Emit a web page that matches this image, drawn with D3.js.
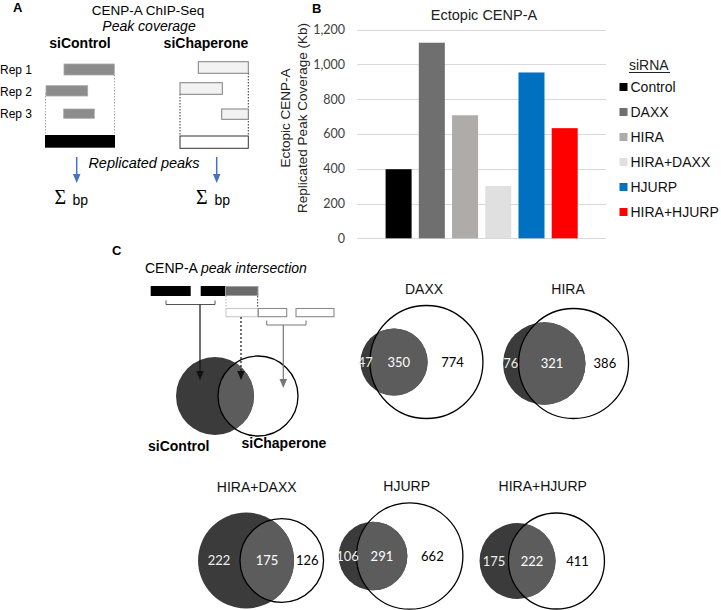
<!DOCTYPE html>
<html>
<head>
<meta charset="utf-8">
<script src="https://cdn.jsdelivr.net/npm/d3@7"></script>
<style>
  html, body { margin: 0; padding: 0; background: #fff; }
  svg { display: block; }
</style>
</head>
<body>
<svg id="fig" width="721" height="610"></svg>
<script>
// ---------------- DATA ----------------
const barCategories = ["Control", "DAXX", "HIRA", "HIRA+DAXX", "HJURP", "HIRA+HJURP"];
const barValues = [397, 1124, 707, 301, 953, 633];
const barColors = ["#000000", "#6f6f6f", "#aeaba9", "#e0e0e0", "#0070c0", "#ff0000"];
const yTicks = [0, 200, 400, 600, 800, 1000, 1200];
const yTickLabels = ["0", "200", "400", "600", "800", "1,000", "1,200"];

const vennNames = ["DAXX", "HIRA", "HIRA+DAXX", "HJURP", "HIRA+HJURP"];
const vennControlOnly = [47, 76, 222, 106, 175];
const vennShared = [350, 321, 175, 291, 222];
const vennChaperoneOnly = [774, 386, 126, 662, 411];

// ---------------- LAYOUT ----------------
const vennLayout = [
  { cx: 421.7, cy: 362, maxR: 56.5, tx: 424, ty: 294 },
  { cx: 565.8, cy: 363.5, maxR: 55, tx: 568, ty: 294 },
  { cx: 260.8, cy: 560.5, maxR: 48, tx: 256.7, ty: 491.5 },
  { cx: 400.8, cy: 556, maxR: 53.2, tx: 406.7, ty: 491 },
  { cx: 542, cy: 561, maxR: 48, tx: 542.7, ty: 491 }
];

const svg = d3.select("#fig");
const SANS = "'Liberation Sans', Arial, Helvetica, sans-serif";
const NUM = "Lato, 'Open Sans', sans-serif";
svg.append("rect").attr("width", 721).attr("height", 610).attr("fill", "#fff");

function txt(g, x, y, s, opts = {}) {
  return g.append("text").attr("x", x).attr("y", y).text(s)
    .attr("font-family", opts.family || SANS)
    .attr("font-size", opts.size || 14)
    .attr("font-weight", opts.weight || "normal")
    .attr("font-style", opts.style || "normal")
    .attr("text-anchor", opts.anchor || "start")
    .attr("fill", opts.fill || "#000");
}
function arrow(g, x, y1, y2, color, dashed, w) {
  g.append("line").attr("x1", x).attr("x2", x).attr("y1", y1).attr("y2", y2 - 7)
    .attr("stroke", color).attr("stroke-width", w || 1.3)
    .attr("stroke-dasharray", dashed ? "2,2" : null);
  g.append("path").attr("d", `M${x - 3.8},${y2 - 9} L${x + 3.8},${y2 - 9} L${x},${y2} Z`)
    .attr("fill", color);
}

// ---------------- PANEL A ----------------
const A = svg.append("g");
txt(A, 13, 12, "A", { weight: "bold", size: 13 });
txt(A, 148, 15, "CENP-A ChIP-Seq", { anchor: "middle", size: 13.5 });
txt(A, 149, 31, "Peak coverage", { anchor: "middle", style: "italic", size: 14 });
txt(A, 80, 48, "siControl", { anchor: "middle", weight: "bold", size: 14 });
txt(A, 206, 48, "siChaperone", { anchor: "middle", weight: "bold", size: 14 });
["Rep 1", "Rep 2", "Rep 3"].forEach((r, i) => txt(A, 0, 74 + i * 22, r, { size: 12 }));

// siControl replicates
A.append("line").attr("x1", 45.5).attr("x2", 45.5).attr("y1", 93).attr("y2", 135)
  .attr("stroke", "#aaa").attr("stroke-dasharray", "1.5,1.5");
A.append("line").attr("x1", 114.5).attr("x2", 114.5).attr("y1", 75).attr("y2", 135)
  .attr("stroke", "#aaa").attr("stroke-dasharray", "1.5,1.5");
[[64, 64, 50.3, 11], [46, 85.7, 41.7, 10.3], [63.7, 109, 30.6, 9.3]].forEach(b =>
  A.append("rect").attr("x", b[0]).attr("y", b[1]).attr("width", b[2]).attr("height", b[3])
    .attr("fill", "#8c8c8c").attr("stroke", "#a8a8a8").attr("stroke-width", 0.8));
A.append("rect").attr("x", 45).attr("y", 135).attr("width", 70).attr("height", 12.7).attr("fill", "#000");

// siChaperone replicates
A.append("line").attr("x1", 180).attr("x2", 180).attr("y1", 94).attr("y2", 136)
  .attr("stroke", "#333").attr("stroke-dasharray", "1.5,1.5");
A.append("line").attr("x1", 248.3).attr("x2", 248.3).attr("y1", 73).attr("y2", 136)
  .attr("stroke", "#333").attr("stroke-dasharray", "1.5,1.5");
[[198.3, 61.7, 50, 11.6], [180, 82.7, 42.3, 11.6], [221.7, 109, 26.6, 10.3]].forEach(b =>
  A.append("rect").attr("x", b[0]).attr("y", b[1]).attr("width", b[2]).attr("height", b[3])
    .attr("fill", "#f2f2f2").attr("stroke", "#7f7f7f").attr("stroke-width", 1));
A.append("rect").attr("x", 180).attr("y", 136).attr("width", 68.3).attr("height", 12.3)
  .attr("fill", "#fff").attr("stroke", "#333").attr("stroke-width", 1);

arrow(A, 76.7, 157, 183, "#4472c4", false, 1.5);
arrow(A, 216.7, 157, 183, "#4472c4", false, 1.5);
txt(A, 144, 168, "Replicated peaks", { anchor: "middle", style: "italic", size: 14.5 });
txt(A, 54.5, 204, "Σ", { size: 20, family: "'Liberation Serif', 'Times New Roman', serif" });
txt(A, 72.5, 205, "bp", { size: 14 });
txt(A, 196, 204, "Σ", { size: 20, family: "'Liberation Serif', 'Times New Roman', serif" });
txt(A, 214.5, 205, "bp", { size: 14 });

// ---------------- PANEL B ----------------
const B = svg.append("g");
txt(B, 312, 13, "B", { weight: "bold", size: 13 });
txt(B, 484, 20, "Ectopic CENP-A", { anchor: "middle", size: 14.5, fill: "#222" });

const y = d3.scaleLinear().domain([0, 1200]).range([238.3, 29.5]);
const x = d3.scaleBand().domain(barCategories).range([382, 581.3])
  .paddingInner(0.217).paddingOuter(0.108);

B.selectAll(".grid").data(yTicks).enter().append("line")
  .attr("x1", 357).attr("x2", 606)
  .attr("y1", d => Math.round(y(d)) + 0.5).attr("y2", d => Math.round(y(d)) + 0.5)
  .attr("stroke", "#d9d9d9").attr("stroke-width", 1);
B.selectAll(".tl").data(yTicks).enter().append("text")
  .attr("x", 345).attr("y", d => y(d) + 4.5)
  .attr("text-anchor", "end").attr("font-family", NUM).attr("font-size", 12.5)
  .attr("fill", "#404040").text((d, i) => yTickLabels[i]);

B.selectAll(".bar").data(barValues).enter().append("rect")
  .attr("x", (d, i) => x(barCategories[i]))
  .attr("y", d => y(d))
  .attr("width", x.bandwidth())
  .attr("height", d => y(0) - y(d))
  .attr("fill", (d, i) => barColors[i]);

const yt = B.append("g").attr("transform", "translate(0,118) rotate(-90)");
txt(yt, 0, 289.5, "Ectopic CENP-A", { anchor: "middle", size: 13.5, fill: "#222" });
txt(yt, 0, 306.5, "Replicated Peak Coverage (Kb)", { anchor: "middle", size: 13.5, fill: "#222" });

// legend
txt(B, 629, 70, "siRNA", { size: 14, fill: "#222" });
B.append("line").attr("x1", 629).attr("x2", 670).attr("y1", 72.5).attr("y2", 72.5)
  .attr("stroke", "#222").attr("stroke-width", 1);
barCategories.forEach((c, i) => {
  const cy = 87 + i * 25;
  B.append("rect").attr("x", 619.5).attr("y", cy - 4).attr("width", 8).attr("height", 8)
    .attr("fill", barColors[i]);
  txt(B, 630.5, cy + 5, c, { size: 14, fill: "#111" });
});

// ---------------- PANEL C ----------------
const C = svg.append("g");
txt(C, 112, 255, "C", { weight: "bold", size: 13 });
const ct = txt(C, 145, 273, "", { size: 14 });
ct.append("tspan").text("CENP-A ");
ct.append("tspan").attr("font-style", "italic").text("peak intersection");

// schematic peaks
C.append("rect").attr("x", 150.7).attr("y", 286).attr("width", 40).attr("height", 10).attr("fill", "#000");
C.append("rect").attr("x", 200.7).attr("y", 286).attr("width", 24.3).attr("height", 10).attr("fill", "#000");
C.append("rect").attr("x", 225.5).attr("y", 286.5).attr("width", 32.5).attr("height", 9)
  .attr("fill", "#6b6b6b").attr("stroke", "#a0a0a0").attr("stroke-width", 1);
C.append("line").attr("x1", 226).attr("x2", 226).attr("y1", 296).attr("y2", 308.5)
  .attr("stroke", "#bbb").attr("stroke-dasharray", "1.5,1.5");
C.append("line").attr("x1", 257.7).attr("x2", 257.7).attr("y1", 296).attr("y2", 308.5)
  .attr("stroke", "#333").attr("stroke-dasharray", "1.5,1.5");
[[226, 31.7, "#c8c8c8"], [258.3, 28.4, "#8a8a8a"], [296, 38, "#8a8a8a"]].forEach(r =>
  C.append("rect").attr("x", r[0]).attr("y", 308.5).attr("width", r[1]).attr("height", 8.2)
    .attr("fill", "#fff").attr("stroke", r[2]).attr("stroke-width", 1.1));

// brackets
C.append("path").attr("d", "M166,300.5 V304.5 H215 V300.5").attr("fill", "none")
  .attr("stroke", "#555").attr("stroke-width", 1);
C.append("path").attr("d", "M266.7,320.5 V325 H306 V320.5").attr("fill", "none")
  .attr("stroke", "#777").attr("stroke-width", 1);

// schematic venn
C.append("defs").append("clipPath").attr("id", "clipS")
  .append("circle").attr("cx", 258).attr("cy", 396).attr("r", 40);
C.append("circle").attr("cx", 215).attr("cy", 396).attr("r", 39).attr("fill", "#3b3b3b");
C.append("circle").attr("cx", 215).attr("cy", 396).attr("r", 39).attr("fill", "#5c5c5c")
  .attr("clip-path", "url(#clipS)");
C.append("circle").attr("cx", 258).attr("cy", 396).attr("r", 40).attr("fill", "none")
  .attr("stroke", "#000").attr("stroke-width", 1.3);
arrow(C, 200, 304.5, 380, "#111", false, 1.2);
arrow(C, 241, 317, 380, "#111", true, 1.2);
arrow(C, 283.3, 325, 388, "#777", false, 1.2);
txt(C, 148, 451, "siControl", { weight: "bold", size: 14 });
txt(C, 241.5, 448, "siChaperone", { weight: "bold", size: 14 });

// data-driven venns
function lens(r1, r2, d) {
  if (d >= r1 + r2) return 0;
  if (d <= Math.abs(r1 - r2)) return Math.PI * Math.min(r1, r2) ** 2;
  const a1 = Math.acos((d * d + r1 * r1 - r2 * r2) / (2 * d * r1));
  const a2 = Math.acos((d * d + r2 * r2 - r1 * r1) / (2 * d * r2));
  const k = Math.sqrt((-d + r1 + r2) * (d + r1 - r2) * (d - r1 + r2) * (d + r1 + r2));
  return r1 * r1 * a1 + r2 * r2 * a2 - 0.5 * k;
}
vennNames.forEach((name, i) => {
  const L = vennLayout[i];
  const a = vennControlOnly[i], ab = vennShared[i], b = vennChaperoneOnly[i];
  const tot1 = a + ab, tot2 = b + ab;
  const r = d3.scaleSqrt().domain([0, Math.max(tot1, tot2)]).range([0, L.maxR]);
  const r1 = r(tot1), r2 = r(tot2);
  const target = Math.PI * r1 * r1 * ab / tot1;
  let lo = Math.abs(r1 - r2), hi = r1 + r2;
  for (let k = 0; k < 60; k++) {
    const mid = (lo + hi) / 2;
    if (lens(r1, r2, mid) > target) lo = mid; else hi = mid;
  }
  const d = (lo + hi) / 2;
  const left = -r1, right = Math.max(d + r2, r1);
  const x1 = L.cx - (left + right) / 2, x2 = x1 + d;
  const g = C.append("g");
  g.append("defs").append("clipPath").attr("id", "clipV" + i)
    .append("circle").attr("cx", x2).attr("cy", L.cy).attr("r", r2);
  g.append("circle").attr("cx", x1).attr("cy", L.cy).attr("r", r1).attr("fill", "#3b3b3b");
  g.append("circle").attr("cx", x1).attr("cy", L.cy).attr("r", r1).attr("fill", "#5c5c5c")
    .attr("clip-path", `url(#clipV${i})`);
  g.append("circle").attr("cx", x2).attr("cy", L.cy).attr("r", r2).attr("fill", "none")
    .attr("stroke", "#000").attr("stroke-width", 1.3);
  txt(g, L.tx, L.ty, name, { anchor: "middle", size: 14, fill: "#111" });
  const yb = L.cy + 4.8;
  const e1 = x1 - r1, e2 = x2 - r2, e3 = x1 + r1, e4 = x2 + r2;
  txt(g, (e1 + e2) / 2, yb, a, { anchor: "middle", size: 13, family: NUM, fill: "#eee" });
  txt(g, (e2 + e3) / 2, yb, ab, { anchor: "middle", size: 13, family: NUM, fill: "#fff" });
  txt(g, e3 + 0.45 * (e4 - e3), yb, b, { anchor: "middle", size: 13, family: NUM, fill: "#000" });
});
</script>
</body>
</html>
